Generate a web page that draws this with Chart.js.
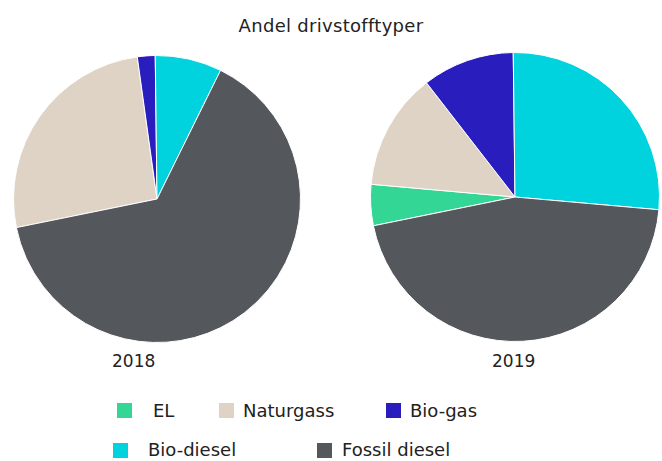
<!DOCTYPE html>
<html>
<head>
<meta charset="utf-8">
<script src="https://cdn.jsdelivr.net/npm/chart.js@4"></script>
<style>
  body { margin: 0; background: #fff; font-family: "DejaVu Sans", sans-serif; color: #222; }
  #wrap { position: relative; width: 662px; height: 461px; overflow: hidden; }
  .txt { position: absolute; font-size: 18px; line-height: 24px; white-space: nowrap; }
  .sq { position: absolute; width: 15px; height: 15px; }
  canvas { position: absolute; }
</style>
</head>
<body>
<div id="wrap">
  <div class="txt" id="title" style="left:0;width:662px;text-align:center;top:14px;letter-spacing:0.3px;">Andel drivstofftyper</div>
  <canvas id="pie2018" style="left:13px;top:55px;"></canvas>
  <canvas id="pie2019" style="left:370px;top:52px;"></canvas>
  <div class="txt" id="y2018" style="left:112px;top:349px;font-size:17px;"></div>
  <div class="txt" id="y2019" style="left:492px;top:349px;font-size:17px;"></div>
  <div id="legend"></div>
</div>
<script>
const fuelTypes = ['EL', 'Naturgass', 'Bio-gas', 'Bio-diesel', 'Fossil diesel'];
const years = ['2018', '2019'];
const share2018 = [0, 26, 2, 7.5, 64.5];
const share2019 = [4.6, 13.1, 10.3, 26.6, 45.4];
const fuelColors = ['#33d695', '#dfd3c5', '#2a1dbe', '#00d2de', '#54575c'];

// legend spots
const legendPos = [
    { sq: [117, 403], tx: [153, 399] },
    { sq: [219, 403], tx: [243, 399] },
    { sq: [386, 403], tx: [410, 399] },
    { sq: [113, 443], tx: [148, 438] },
    { sq: [317, 443], tx: [342, 438] }
];

function makePie(id, values, size) {
    const canvas = document.getElementById(id);
    canvas.width = size;
    canvas.height = size;
    return new Chart(canvas.getContext('2d'), {
        type: 'pie',
        data: {
            labels: fuelTypes,
            datasets: [{
                data: values,
                backgroundColor: fuelColors,
                borderColor: '#fff',
                borderWidth: 1
            }]
        },
        options: {
            responsive: false,
            animation: false,
            rotation: 258.5,
            layout: { padding: 0 },
            plugins: {
                legend: { display: false },
                tooltip: { enabled: false }
            }
        }
    });
}

makePie('pie2018', share2018, 288);
makePie('pie2019', share2019, 290);

document.getElementById('y2018').textContent = years[0];
document.getElementById('y2019').textContent = years[1];

const legend = document.getElementById('legend');
fuelTypes.forEach((name, i) => {
    const sq = document.createElement('div');
    sq.className = 'sq';
    sq.style.left = legendPos[i].sq[0] + 'px';
    sq.style.top = legendPos[i].sq[1] + 'px';
    sq.style.background = fuelColors[i];
    legend.appendChild(sq);

    const tx = document.createElement('div');
    tx.className = 'txt';
    tx.style.left = legendPos[i].tx[0] + 'px';
    tx.style.top = legendPos[i].tx[1] + 'px';
    tx.textContent = name;
    legend.appendChild(tx);
});
</script>
</body>
</html>
